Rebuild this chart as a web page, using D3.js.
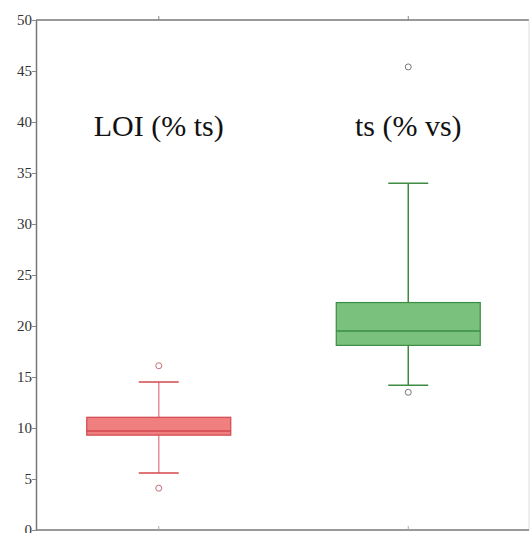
<!DOCTYPE html>
<html lang="en">
<head>
  <meta charset="UTF-8">
  <title>Box plot</title>
  <script src="https://d3js.org/d3.v7.min.js"></script>
  <style>
    body { margin: 0; background: #fff; }
  </style>
</head>
<body>
<script>
  // data
  const categories = ['LOI (% ts)', 'ts (% vs)'];
  const lowWhisker = [5.6, 14.2];
  const q1 = [9.3, 18.1];
  const median = [9.7, 19.5];
  const q3 = [11.05, 22.3];
  const highWhisker = [14.5, 34.0];
  const outliers = [[16.1, 4.1], [45.4, 13.5]];
  const yTicks = [0, 5, 10, 15, 20, 25, 30, 35, 40, 45, 50];

  const fills = ['#f07f7f', '#79c17c'];
  const strokes = ['#d2474c', '#3d8c43'];
  const whiskerColors = ['#e98e96', '#3d8c43'];
  const serif = "'Liberation Serif', 'DejaVu Serif', 'Noto Serif', Tinos, Times, serif";

  const width = 532, height = 533;
  const mLeft = 36, mRight = 529, mTop = 20, mBottom = 530;

  const svg = d3.select('body').append('svg')
    .attr('width', width)
    .attr('height', height);

  const x = d3.scaleBand()
    .domain(categories)
    .range([mLeft - 2, mRight + 4]);

  const y = d3.scaleLinear()
    .domain([0, 50])
    .range([mBottom, mTop]);

  // frame
  svg.append('line')
    .attr('x1', mLeft).attr('x2', mRight)
    .attr('y1', mTop).attr('y2', mTop)
    .attr('stroke', '#777').attr('stroke-width', 1.5);
  svg.append('line')
    .attr('x1', mRight).attr('x2', mRight)
    .attr('y1', mTop).attr('y2', mBottom)
    .attr('stroke', '#ddd').attr('stroke-width', 1);

  // y axis
  const yAxis = svg.append('g')
    .attr('transform', 'translate(' + mLeft + ',0)')
    .call(d3.axisLeft(y).tickValues(yTicks).tickSize(4).tickSizeOuter(0));
  yAxis.select('.domain').attr('stroke', '#777').attr('stroke-width', 1.5);
  yAxis.selectAll('.tick line').attr('stroke', '#888');
  yAxis.selectAll('.tick text')
    .style('font-family', serif)
    .style('font-size', '15px')
    .attr('fill', '#333')
    .attr('x', -4)
    .attr('dy', '0.3em');

  // x axis (bottom) and top ticks
  const xAxis = svg.append('g')
    .attr('transform', 'translate(0,' + mBottom + ')')
    .call(d3.axisBottom(x).tickSize(3).tickSizeOuter(0).tickFormat(''));
  xAxis.select('.domain').attr('stroke', '#777').attr('stroke-width', 1.5)
    .attr('d', 'M' + mLeft + ',0H' + mRight);
  xAxis.selectAll('.tick line').attr('stroke', '#aaa').attr('y2', -4);

  const xTop = svg.append('g')
    .attr('transform', 'translate(0,' + mTop + ')')
    .call(d3.axisTop(x).tickSize(4).tickSizeOuter(0).tickFormat(''));
  xTop.select('.domain').remove();
  xTop.selectAll('.tick line').attr('stroke', '#888');

  const boxW = 144, capW = 40;

  categories.forEach((c, i) => {
    const cx = x(c) + x.bandwidth() / 2;
    const g = svg.append('g');

    // whiskers
    g.append('line')
      .attr('x1', cx).attr('x2', cx)
      .attr('y1', y(highWhisker[i])).attr('y2', y(q3[i]))
      .attr('stroke', whiskerColors[i]).attr('stroke-width', 1.5);
    g.append('line')
      .attr('x1', cx).attr('x2', cx)
      .attr('y1', y(q1[i])).attr('y2', y(lowWhisker[i]))
      .attr('stroke', whiskerColors[i]).attr('stroke-width', 1.5);
    [highWhisker[i], lowWhisker[i]].forEach(v => {
      g.append('line')
        .attr('x1', cx - capW / 2).attr('x2', cx + capW / 2)
        .attr('y1', y(v)).attr('y2', y(v))
        .attr('stroke', strokes[i]).attr('stroke-width', 1.5);
    });

    // box
    g.append('rect')
      .attr('x', cx - boxW / 2)
      .attr('width', boxW)
      .attr('y', y(q3[i]))
      .attr('height', y(q1[i]) - y(q3[i]))
      .attr('fill', fills[i])
      .attr('stroke', strokes[i])
      .attr('stroke-width', 1.2);

    g.append('line')
      .attr('x1', cx - boxW / 2).attr('x2', cx + boxW / 2)
      .attr('y1', y(median[i])).attr('y2', y(median[i]))
      .attr('stroke', strokes[i]).attr('stroke-width', 1.5);

    // outliers
    outliers[i].forEach(v => {
      g.append('circle')
        .attr('cx', cx).attr('cy', y(v)).attr('r', 3)
        .attr('fill', 'none')
        .attr('stroke', i === 0 ? '#c96a72' : '#777')
        .attr('stroke-width', 1);
    });

    // label
    svg.append('text')
      .attr('x', cx)
      .attr('y', 136)
      .attr('text-anchor', 'middle')
      .style('font-family', serif)
      .style('font-size', '30px')
      .attr('fill', '#111')
      .text(c);
  });
</script>
</body>
</html>
